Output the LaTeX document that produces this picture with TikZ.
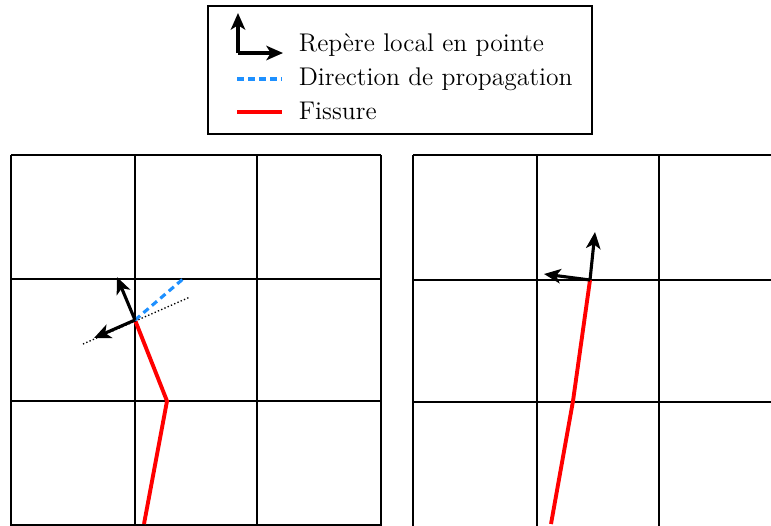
\documentclass[tikz,border=0pt]{standalone}
\usepackage{tikz}
\usetikzlibrary{arrows.meta}
\definecolor{propblue}{RGB}{30,144,255}

\begin{document}
\begin{tikzpicture}[x=0.45pt,y=-0.45pt, grid/.style={line width=0.85pt}, fissure/.style={red,line width=1.75pt}, repere/.style={line width=1.4pt,-{Stealth[length=7.5pt,width=6.5pt,inset=2pt]}}, propag/.style={propblue,line width=1.4pt,dash pattern=on 3pt off 2pt}, every node/.style={font=\fontsize{11.5}{13}\selectfont}]
\useasboundingbox (0,0) rectangle (771,525);
\clip (0,0) rectangle (771,525);
% legende
\draw[line width=0.7pt] (208,6) rectangle (592,134);
\coordinate (lo) at (238,53);
\coordinate (ly) at (238,13);
\coordinate (lx) at (283,53);
\draw[repere] (lo) -- (ly);
\draw[repere] (lo) -- (lx);
\node[anchor=west] (trep) at (291,45) {Repère local en pointe};
\coordinate (pa) at (237,79);
\coordinate (pb) at (282,79);
\draw[propag] (pa) -- (pb);
\node[anchor=west] (tdir) at (291,79) {Direction de propagation};
\coordinate (fa) at (237,112);
\coordinate (fb) at (282,112);
\draw[fissure] (fa) -- (fb);
\node[anchor=west] (tfis) at (291,111) {Fissure};
% maillage gauche
\foreach \x in {11,135,257,381} \draw[grid] (\x,155) -- (\x,526);
\foreach \y in {155,279,401,525} \draw[grid] (11,\y) -- (381,\y);
% maillage droit
\foreach \x in {413,537,659,783} \draw[grid] (\x,155) -- (\x,526);
\foreach \y in {155,280,402} \draw[grid] (413,\y) -- (790,\y);
% fissure gauche
\coordinate (g0) at (144,524);
\coordinate (g1) at (167,401);
\coordinate (gt) at (135,320);
\draw[fissure,line join=round] (g0) -- (g1) -- (gt);
\coordinate (gd1) at (83,344);
\coordinate (gd2) at (190,297);
\draw[densely dotted,line width=0.6pt] (gd1) -- (gd2);
\coordinate (gp) at (183,279);
\draw[propag] (gt) -- (gp);
\coordinate (gy) at (117,277);
\coordinate (gx) at (94,338);
\draw[repere] (gt) -- (gy);
\draw[repere] (gt) -- (gx);
% fissure droite
\coordinate (d0) at (551,524);
\coordinate (d1) at (573,401);
\coordinate (dt) at (590,280);
\draw[fissure,line join=round] (d0) -- (d1) -- (dt);
\coordinate (dy) at (595,232);
\coordinate (dx) at (544,274);
\draw[repere] (dt) -- (dy);
\draw[repere] (dt) -- (dx);
\end{tikzpicture}
\end{document}
